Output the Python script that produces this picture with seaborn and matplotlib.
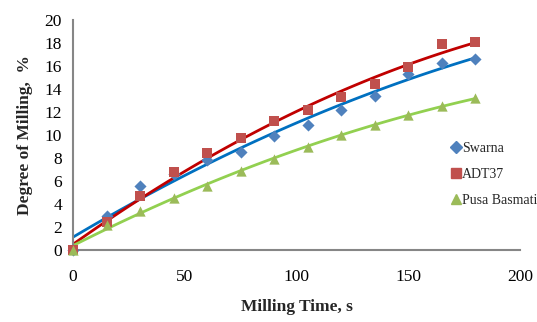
import numpy as np
import pandas as pd
import seaborn as sns
import matplotlib.pyplot as plt
from matplotlib.lines import Line2D

# milling time (s)
time_s = [0, 15, 30, 45, 60, 75, 90, 105, 120, 135, 150, 165, 180]

# degree of milling (%)
swarna = [0, 3.0, 5.6, 6.6, 7.8, 8.5, 9.9, 10.9, 12.2, 13.4, 15.3, 16.3, 16.6]
adt37 = [0, 2.4, 4.7, 6.8, 8.4, 9.7, 11.2, 12.2, 13.3, 14.4, 15.9, 17.9, 18.1]
pusa = [0, 2.2, 3.4, 4.5, 5.6, 6.9, 7.9, 9.0, 10.0, 10.9, 11.7, 12.5, 13.2]

varieties = ['Swarna', 'ADT37', 'Pusa Basmati']
x_ticks = [0, 50, 100, 150, 200]
y_ticks = list(range(0, 21, 2))

df = pd.DataFrame({'time': time_s * 3,
                   'dom': swarna + adt37 + pusa,
                   'variety': [v for v in varieties for _ in time_s]})

sns.set_style('white')
plt.rcParams['font.family'] = ['Liberation Serif', 'DejaVu Serif']

styles = {
    'Swarna': dict(marker='D', mc='#4F81BD', lc='#0070C0', s=38),
    'ADT37': dict(marker='s', mc='#C0504D', lc='#C00000', s=50),
    'Pusa Basmati': dict(marker='^', mc='#9BBB59', lc='#92D050', s=55),
}

fig = plt.figure(figsize=(5.37, 3.22), dpi=100)
ax = fig.add_axes([73 / 537, 1 - 250 / 322, (520 - 73) / 537, 230 / 322])

for v in varieties:
    st = styles[v]
    sub = df[df['variety'] == v]
    sns.regplot(data=sub, x='time', y='dom', order=2, ci=None, ax=ax,
                marker=st['marker'], truncate=True,
                scatter_kws=dict(color=st['mc'], s=st['s'], alpha=1,
                                 linewidths=0, clip_on=False, zorder=3),
                line_kws=dict(color=st['lc'], lw=2, zorder=2))

ax.set_xlim(0, 200)
ax.set_ylim(0, 20)
ax.set_xticks(x_ticks)
ax.set_yticks(y_ticks)
ax.tick_params(axis='both', length=0, labelsize=12.5, colors='black')
ax.tick_params(axis='x', pad=14)
ax.tick_params(axis='y', pad=8)
sns.despine(ax=ax)
for side in ['left', 'bottom']:
    ax.spines[side].set_color('#868686')
    ax.spines[side].set_linewidth(1.5)

ax.set_xlabel('Milling Time, s', fontsize=12.5, fontweight='bold', labelpad=10)
ax.set_ylabel('Degree of Milling,  %', fontsize=12.5, fontweight='bold', labelpad=8)

handles = [Line2D([], [], linestyle='none', marker=styles[v]['marker'],
                  color=styles[v]['mc'], markersize=7 if v != 'Swarna' else 6)
           for v in varieties]
fig.legend(handles, varieties, loc='upper left',
           bbox_to_anchor=(446 / 537, 1 - 136 / 322), frameon=False,
           fontsize=10, handlelength=0.6, handletextpad=0.15,
           labelspacing=0.95, borderaxespad=0)

fig.savefig('out.png', dpi=100)
